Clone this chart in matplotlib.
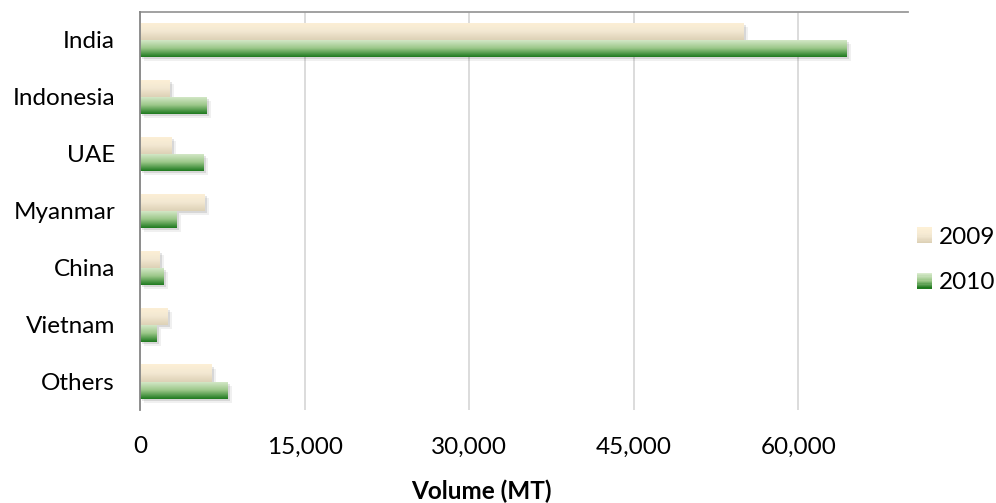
import numpy as np
import matplotlib
matplotlib.use("Agg")
from matplotlib import pyplot as plt
from matplotlib.colors import LinearSegmentedColormap
from matplotlib.patches import Rectangle
from matplotlib.legend_handler import HandlerBase
import matplotlib.patheffects as pe

plt.rcParams['font.family'] = ['Lato', 'DejaVu Sans']

# === data ===
countries = ["India", "Indonesia", "UAE", "Myanmar", "China", "Vietnam", "Others"]
vol_2009 = [55000, 2700, 2900, 5900, 1800, 2500, 6550]
vol_2010 = [64400, 6100, 5800, 3350, 2150, 1500, 8000]
years = ["2009", "2010"]
x_ticks = [0, 15000, 30000, 45000, 60000]

# gradient top -> bottom
grad_2009 = ["#fdf0d6", "#f3e8d2", "#ddd1b6"]
grad_2010 = ["#d9ebcd", "#9cc88a", "#1f7a1f"]

FS = 17.5


def fill_gradient(ax, bars, colors):
    cmap = LinearSegmentedColormap.from_list("g", colors)
    grad = np.linspace(0, 1, 64).reshape(-1, 1)
    for b in bars:
        x0, y0 = b.get_x(), b.get_y()
        w, h = b.get_width(), b.get_height()
        # y axis is inverted: y0 is the top of the bar on screen
        im = ax.imshow(grad, cmap=cmap, aspect="auto", origin="upper",
                       extent=(x0, x0 + w, y0 + h, y0), zorder=3,
                       interpolation="bilinear")
        im.set_clip_path(b)


class GradHandler(HandlerBase):
    def __init__(self, colors):
        super().__init__()
        self.colors = colors

    def create_artists(self, legend, orig_handle, xdescent, ydescent,
                       width, height, fontsize, trans):
        cmap = LinearSegmentedColormap.from_list("g", self.colors)
        n = 12
        side = 11.5
        x = xdescent + (width - side) / 2
        y0 = -ydescent + (height - side) / 2
        arts = []
        for i in range(n):
            c = cmap(1 - i / (n - 1))
            r = Rectangle((x, y0 + side * i / n), side, side / n,
                          facecolor=c, edgecolor="none", transform=trans)
            arts.append(r)
        return arts


fig = plt.figure(figsize=(9.96, 5.03), dpi=100)
ax = fig.add_axes([140 / 996, 1 - 410 / 503, (908 - 140) / 996, (410 - 11.5) / 503])

y = np.arange(len(countries))
h = 0.3
shadow = [pe.SimplePatchShadow(offset=(3, -3), shadow_rgbFace="#000000", alpha=0.06),
          pe.SimplePatchShadow(offset=(1.5, -1.5), shadow_rgbFace="#000000", alpha=0.10),
          pe.Normal()]
bars09 = ax.barh(y - h / 2, vol_2009, height=h, facecolor="none", edgecolor="none",
                 zorder=2, path_effects=shadow)
bars10 = ax.barh(y + h / 2, vol_2010, height=h, facecolor="none", edgecolor="none",
                 zorder=2, path_effects=shadow)
fill_gradient(ax, bars09, grad_2009)
fill_gradient(ax, bars10, grad_2010)

ax.set_xlim(0, 70000)
ax.set_ylim(len(countries) - 0.5, -0.5)
ax.set_yticks(y)
ax.set_yticklabels(countries)
ax.set_xticks(x_ticks)
ax.set_xticklabels([f"{v:,}" for v in x_ticks])
ax.tick_params(axis="both", length=0, labelsize=FS, colors="#000000")
ax.tick_params(axis="x", pad=19)
ax.tick_params(axis="y", pad=18)

ax.grid(axis="x", color="#d9d9d9", linewidth=1.3, zorder=0)
ax.set_axisbelow(True)
for s in ["right", "bottom"]:
    ax.spines[s].set_visible(False)
ax.spines["left"].set_color("#868686")
ax.spines["top"].set_color("#9a9a9a")
ax.spines["left"].set_linewidth(1.3)
ax.spines["top"].set_linewidth(1.3)
ax.spines["left"].set_zorder(4)

fig.text(481 / 996, 1 - 491 / 503, "Volume (MT)", ha="center", va="center",
         fontsize=FS, fontweight="bold")

handles = [Rectangle((0, 0), 1, 1), Rectangle((0, 1), 1, 1)]
leg = fig.legend(handles, years, loc="center left", bbox_to_anchor=(916 / 996, 1 - 260 / 503),
                 frameon=False, fontsize=FS, handlelength=0.7, handletextpad=0.25,
                 labelspacing=1.0, borderpad=0, borderaxespad=0,
                 handler_map={handles[0]: GradHandler(grad_2009), handles[1]: GradHandler(grad_2010)})

fig.savefig("out.png", dpi=100)
